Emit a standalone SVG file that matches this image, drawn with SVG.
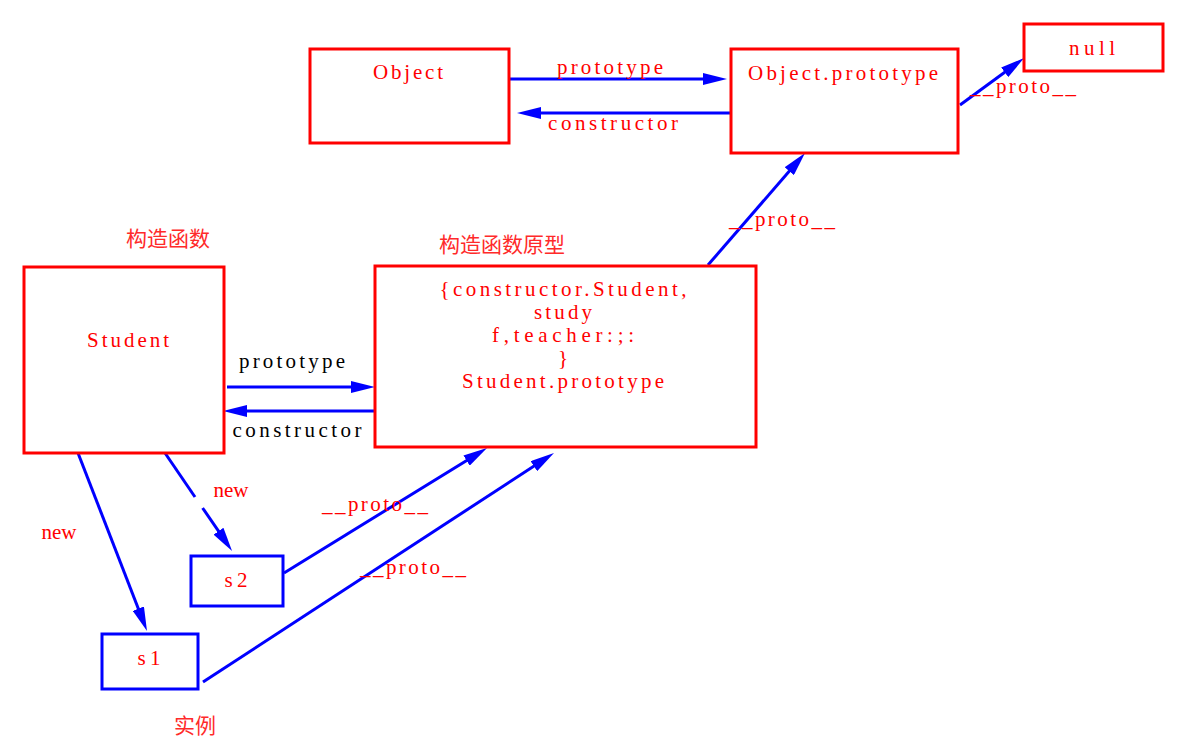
<svg xmlns="http://www.w3.org/2000/svg" width="1204" height="747" viewBox="0 0 1204 747">
<style>
.rbox{fill:none;stroke:#ff0000;stroke-width:3}
.bbox{fill:none;stroke:#0000ff;stroke-width:3}
.t{font-family:"Liberation Serif","Noto Sans CJK SC",serif;font-size:21px;fill:#ff0000;text-anchor:middle}
.k{fill:#000000}
.cn{font-family:"Noto Sans CJK SC",sans-serif;font-size:21px;fill:#ff2a2a;text-anchor:middle}
.c{fill:none;stroke:#0000ff;stroke-width:3}
.a{marker-end:url(#ah)}
</style>
<defs>
<marker id="ah" viewBox="0 0 24 12" markerWidth="24" markerHeight="12" refX="14" refY="6" orient="auto" markerUnits="userSpaceOnUse">
<path d="M0,0 L24,6 L0,12 z" fill="#0000ff"/>
</marker>
</defs>
<rect width="1204" height="747" fill="#ffffff"/>
<g id="connectors">
<line class="c a" x1="509" y1="79" x2="717" y2="79"/>
<line class="c a" x1="731" y1="113" x2="527" y2="113"/>
<line class="c a" x1="960" y1="105" x2="1016" y2="64"/>
<line class="c a" x1="708" y1="265" x2="798.5" y2="160.6"/>
<line class="c a" x1="227" y1="387" x2="365" y2="387"/>
<line class="c a" x1="375" y1="411" x2="233" y2="411"/>
<line class="c a" x1="78" y1="453" x2="143.4" y2="621.7"/>
<line class="c" x1="165" y1="453" x2="195" y2="497"/>
<line class="c a" x1="202.6" y1="508" x2="226.4" y2="542.7"/>
<line class="c a" x1="284" y1="573" x2="478.5" y2="453.2"/>
<line class="c a" x1="203" y1="682" x2="545.6" y2="458.5"/>
<text class="t" x="610" y="74" textLength="106" lengthAdjust="spacing">prototype</text>
<text class="t" x="613" y="130" textLength="130" lengthAdjust="spacing">constructor</text>
<text class="t" x="1023" y="93" textLength="106" lengthAdjust="spacing">__proto__</text>
<text class="t" x="782" y="226" textLength="106" lengthAdjust="spacing">__proto__</text>
<text class="t k" x="292" y="368" textLength="106" lengthAdjust="spacing">prototype</text>
<text class="t k" x="297" y="437" textLength="129" lengthAdjust="spacing">constructor</text>
<text class="t" x="59" y="539" textLength="35" lengthAdjust="spacing">new</text>
<text class="t" x="231" y="497" textLength="35" lengthAdjust="spacing">new</text>
<text class="t" x="375" y="511" textLength="106" lengthAdjust="spacing">__proto__</text>
<text class="t" x="413" y="574" textLength="106" lengthAdjust="spacing">__proto__</text>
</g>
<g id="object">
<rect class="rbox" x="310" y="49" width="199" height="94"/>
<text class="t" x="408" y="79" textLength="70" lengthAdjust="spacing">Object</text>
</g>
<g id="object-prototype">
<rect class="rbox" x="731" y="49" width="227" height="104"/>
<text class="t" x="843" y="80" textLength="190" lengthAdjust="spacing">Object.prototype</text>
</g>
<g id="null">
<rect class="rbox" x="1024" y="24" width="139" height="47"/>
<text class="t" x="1092" y="55" textLength="46" lengthAdjust="spacing">null</text>
</g>
<g id="student">
<text class="cn" x="168" y="246">构造函数</text>
<rect class="rbox" x="24" y="267" width="200" height="186"/>
<text class="t" x="128" y="347" textLength="82" lengthAdjust="spacing">Student</text>
</g>
<g id="student-prototype">
<text class="cn" x="502" y="252">构造函数原型</text>
<rect class="rbox" x="375" y="266" width="381" height="181"/>
<text class="t" x="563" y="296" textLength="247" lengthAdjust="spacing">{constructor.Student,</text>
<text class="t" x="563" y="319" textLength="58" lengthAdjust="spacing">study</text>
<text class="t" x="563" y="342" textLength="142" lengthAdjust="spacing">f,teacher:;:</text>
<text class="t" x="563" y="365">}</text>
<text class="t" x="563" y="388" textLength="202" lengthAdjust="spacing">Student.prototype</text>
</g>
<g id="s2">
<rect class="bbox" x="191" y="556" width="92" height="50"/>
<text class="t" x="236" y="587" textLength="23" lengthAdjust="spacing">s2</text>
</g>
<g id="s1">
<rect class="bbox" x="102" y="634" width="96" height="55"/>
<text class="t" x="149" y="665" textLength="23" lengthAdjust="spacing">s1</text>
</g>
<g id="instances-label">
<text class="cn" x="195" y="733">实例</text>
</g>
</svg>
